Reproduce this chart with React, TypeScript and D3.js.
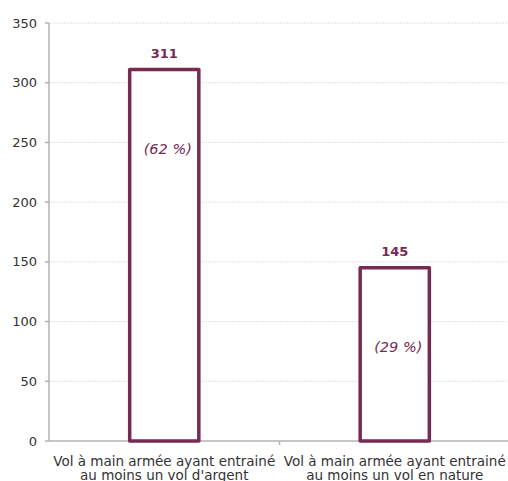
import React from "react";
import * as d3 from "d3";

const categories = [
  ["Vol à main armée ayant entrainé", "au moins un vol d'argent"],
  ["Vol à main armée ayant entrainé", "au moins un vol en nature"],
];
const values = [311, 145];
const shares = ["(62 %)", "(29 %)"];
const yTicks = [0, 50, 100, 150, 200, 250, 300, 350];

const W = 508;
const H = 481;
const left = 49;
const right = 510;
const top = 23;
const bottom = 441;
const color = "#772a52";
const font = "Verdana, 'DejaVu Sans', sans-serif";

export default function App() {
  const y = d3.scaleLinear().domain([0, 350]).range([bottom, top]);
  const x = d3.scaleBand<number>().domain([0, 1]).range([left, right]).paddingInner(0).paddingOuter(0);
  const bw = x.bandwidth() * 0.3;
  const sw = 3.5;

  return (
    <svg width={W} height={H} style={{ position: "absolute", left: 0, top: 0 }} fontFamily={font}>
      <rect width={W} height={H} fill="#fff" />
      {yTicks.slice(1).map((t) => (
        <line key={t} x1={left} x2={right} y1={y(t)} y2={y(t)} stroke="#e0e0e0" strokeWidth={1} strokeDasharray="2,1" />
      ))}
      <line x1={left} x2={left} y1={top} y2={bottom} stroke="#b3b3b3" strokeWidth={1.5} />
      <line x1={left} x2={right} y1={bottom} y2={bottom} stroke="#b3b3b3" strokeWidth={1.5} />
      {yTicks.map((t) => (
        <g key={t}>
          <line x1={left - 4} x2={left} y1={y(t)} y2={y(t)} stroke="#b3b3b3" strokeWidth={1.5} />
          <text x={left - 12} y={y(t)} dy="0.35em" textAnchor="end" fontSize={13} fill="#333">
            {t}
          </text>
        </g>
      ))}
      {[left + x.bandwidth()].map((tx) => (
        <line key={tx} x1={tx} x2={tx} y1={bottom} y2={bottom + 4} stroke="#b3b3b3" strokeWidth={1.5} />
      ))}
      {values.map((v, i) => {
        const cx = (x(i) as number) + x.bandwidth() / 2;
        return (
          <g key={i}>
            <rect
              x={cx - bw / 2}
              y={y(v)}
              width={bw}
              height={bottom - y(v)}
              fill="#fff"
              stroke={color}
              strokeWidth={sw}
              strokeLinejoin="round"
            />
            <text x={cx} y={y(v) - 12} textAnchor="middle" fontSize={13} fontWeight="bold" fill={color}>
              {v}
            </text>
            <text x={cx + 3.5} y={y(v) + 84} textAnchor="middle" fontSize={14.5} fontStyle="italic" fill={color}>
              {shares[i]}
            </text>
            {categories[i].map((line, j) => (
              <text key={j} x={cx} y={bottom + 25 + j * 14} textAnchor="middle" fontSize={13.5} fill="#333">
                {line}
              </text>
            ))}
          </g>
        );
      })}
    </svg>
  );
}
